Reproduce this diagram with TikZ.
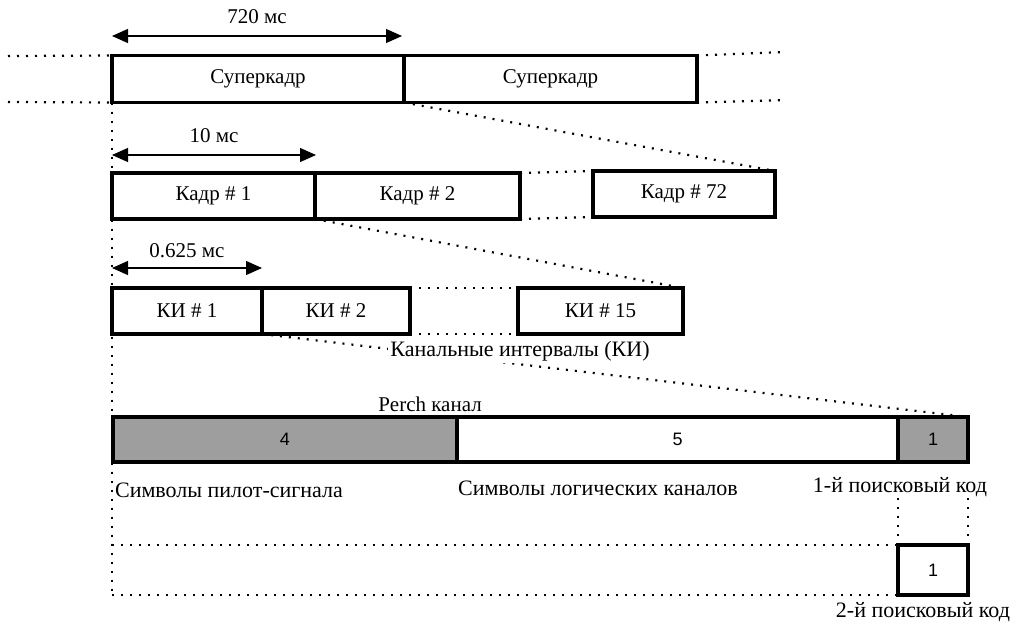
\documentclass[tikz,border=0pt]{standalone}
\usepackage{fontspec}
\setmainfont{Liberation Serif}
\setsansfont{Liberation Sans}
\usetikzlibrary{arrows.meta,positioning}

\begin{document}
\begin{tikzpicture}[x=0.5pt, y=-0.5pt,
  cell/.style={rectangle, draw=black, line width=1.8pt, inner sep=0pt, outer sep=0pt,
               align=center, font=\fontsize{10.5}{12}\selectfont},
  shaded/.style={cell, fill=black!38},
  lbl/.style={font=\fontsize{10.5}{12}\selectfont, inner sep=1pt},
  span/.style={{Triangle[length=8pt,width=7pt]}-{Triangle[length=8pt,width=7pt]}, line width=0.6pt},
  dots/.style={line width=1.1pt, dash pattern=on 1pt off 3.5pt},
  node distance=0pt
]
  \useasboundingbox (0,0) rectangle (1018,627);
  % superframes
  \node[cell, minimum width=146pt, minimum height=23.5pt] (sf1) at (258,79) {Суперкадр};
  \node[cell, minimum width=146.5pt, minimum height=23.5pt, right=of sf1] (sf2) {Суперкадр};
  % frames
  \node[cell, minimum width=101.5pt, minimum height=23pt] (fr1) at (213.5,196) {Кадр \# 1};
  \node[cell, minimum width=102.5pt, minimum height=23pt, right=of fr1] (fr2) {Кадр \# 2};
  \node[cell, minimum width=91pt, minimum height=23pt] (fr72) at (684,194) {Кадр \# 72};
  % slots
  \node[cell, minimum width=75pt, minimum height=23pt] (ki1) at (187,311) {КИ \# 1};
  \node[cell, minimum width=74pt, minimum height=23pt, right=of ki1] (ki2) {КИ \# 2};
  \node[cell, minimum width=82.5pt, minimum height=23pt] (ki15) at (600.5,311) {КИ \# 15};
  % perch channel slot
  \node[shaded, minimum width=172pt, minimum height=22.5pt, font=\sffamily\small] (pil) at (285,439.5) {4};
  \node[cell, minimum width=220.5pt, minimum height=22.5pt, font=\sffamily\small, right=of pil] (log) {5};
  \node[shaded, minimum width=35pt, minimum height=22.5pt, font=\sffamily\small, right=of log] (sc1) {1};
  \node[cell, minimum width=35pt, minimum height=25pt, font=\sffamily\small] (sc2) at (933,570) {1};

  % time spans
  \draw[span] (112,36) -- node[lbl, above=5pt] {720 мс} (402,36);
  \draw[span] (112,155) -- node[lbl, above=5pt] {10 мс} (316,155);
  \draw[span] (112,268) -- node[lbl, above=4pt] {0.625 мс} (262,268);

  % dotted continuations
  \coordinate (lt) at (8,56);  \coordinate (lb) at (8,102);
  \coordinate (rt) at (785,52); \coordinate (rb) at (785,100);
  \coordinate (bl) at (112,595); \coordinate (ml) at (112,545);
  \draw[dots] (lt) -- (sf1.north west);  \draw[dots] (lb) -- (sf1.south west);
  \draw[dots] (sf2.north east) -- (rt);  \draw[dots] (sf2.south east) -- (rb);
  \draw[dots] (sf1.south east) -- (fr72.north east);
  \draw[dots] (fr2.north east) -- (fr72.north west);
  \draw[dots] (fr2.south east) -- (fr72.south west);
  \draw[dots] (fr1.south east) -- (ki15.north east);
  \draw[dots] (ki2.north east) -- (ki15.north west);
  \draw[dots] (ki2.south east) -- (ki15.south west);
  \draw[dots] (ki1.south east) -- (sc1.north east);
  \draw[dots] (sf1.south west) -- (bl);
  \draw[dots] (ml) -- (sc2.north west);
  \draw[dots] (bl) -- (sc2.south west);
  \draw[dots] (sc2.north west) -- ++(0,-48);
  \draw[dots] (sc2.north east) -- ++(0,-48);

  % texts
  \node[lbl, fill=white, font=\fontsize{11}{13}\selectfont] (kitxt) at (520,351) {Канальные интервалы (КИ)};
  \node[lbl] (perch) at (430,404) {Perch канал};
  \node[lbl, font=\fontsize{11}{13}\selectfont] (piltxt) at (229,490) {Символы пилот-сигнала};
  \node[lbl, font=\fontsize{11}{13}\selectfont] (logtxt) at (598,488) {Символы логических каналов};
  \node[lbl, font=\fontsize{11}{13}\selectfont] (sc1txt) at (900,487) {1-й поисковый код};
  \node[lbl, font=\fontsize{11}{13}\selectfont] (sc2txt) at (923,612) {2-й поисковый код};
\end{tikzpicture}
\end{document}
